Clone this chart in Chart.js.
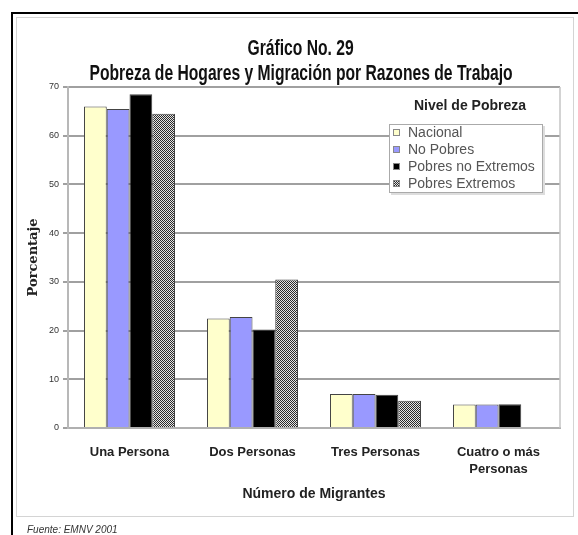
<!DOCTYPE html>
<html>
<head>
<meta charset="utf-8">
<script src="https://cdn.jsdelivr.net/npm/chart.js@4.4.0/dist/chart.umd.min.js"></script>
<style>
  body { margin: 0; width: 578px; height: 535px; overflow: hidden; background: #fff; position: relative; }
  #marcoExterno { position: absolute; left: 11px; top: 12px; width: 600px; height: 600px; border-left: 2px solid #000; border-top: 2px solid #000; }
  #marcoInterno { position: absolute; left: 16px; top: 17px; width: 556px; height: 498px; border: 1px solid #d4d4d4; }
  #grafica { position: absolute; left: 0; top: 0; }
  #titulo { position: absolute; left: 1px; width: 600px; top: 35px; text-align: center; font: bold 22px/25px 'Liberation Sans', sans-serif; color: #111; }
  #titulo span { display: inline-block; white-space: nowrap; }
  #leyendaTitulo { position: absolute; left: 414px; top: 97px; font: bold 14px 'Liberation Sans', sans-serif; color: #222; }
  #leyenda { position: absolute; left: 389px; top: 124px; width: 152px; height: 67px; border: 1px solid #aaa; box-shadow: 2px 2px 0 #ddd; background: #fff; }
  .item { position: absolute; left: 3px; font: 14px 'Liberation Sans', sans-serif; color: #555; white-space: nowrap; line-height: 14px; }
  .muestra { display: inline-block; width: 7px; height: 7px; margin-right: 8px; vertical-align: 1px; box-sizing: border-box; border: 1px solid #888; }
  #fuente { position: absolute; left: 27px; top: 524px; font: italic 10px 'Liberation Sans', sans-serif; color: #333; }
</style>
</head>
<body>
<div id="marcoExterno"></div>
<div id="marcoInterno"></div>
<canvas id="grafica" width="578" height="535"></canvas>
<div id="titulo"><span>Gráfico No. 29</span><br><span id="tituloLargo">Pobreza de Hogares y Migración por Razones de Trabajo</span></div>
<div id="leyendaTitulo">Nivel de Pobreza</div>
<div id="leyenda"></div>
<div id="fuente">Fuente: EMNV 2001</div>
<script>
// Datos
const categorias = ['Una Persona', 'Dos Personas', 'Tres Personas', ['Cuatro o más', 'Personas']];
const nacional = [66, 22.5, 7.0, 4.8];
const noPobres = [65.5, 22.8, 7.0, 4.8];
const pobresNoExtremos = [68.5, 20.2, 6.8, 4.9];
const pobresExtremos = [64.5, 30.5, 5.6, 0];
const marcasY = [0, 10, 20, 30, 40, 50, 60, 70];

// Titulo estrecho (no hay fuente condensada instalada)
const anchoTitulo = 423;
const largo = document.getElementById('tituloLargo');
const escala = anchoTitulo / largo.offsetWidth;
document.querySelectorAll('#titulo span').forEach(s => {
    s.style.transform = 'scale(' + escala + ', 1)';
});

// Trama gris para Pobres Extremos
const lienzoTrama = document.createElement('canvas');
lienzoTrama.width = 2;
lienzoTrama.height = 2;
const ct = lienzoTrama.getContext('2d');
ct.fillStyle = '#e4e4e4';
ct.fillRect(0, 0, 2, 2);
ct.fillStyle = '#2a2a2a';
ct.fillRect(0, 0, 1, 1);
ct.fillRect(1, 1, 1, 1);
const trama = ct.createPattern(lienzoTrama, 'repeat');

const series = [
    { label: 'Nacional', data: nacional, backgroundColor: '#ffffcc', muestra: '#ffffcc' },
    { label: 'No Pobres', data: noPobres, backgroundColor: '#9999ff', muestra: '#9999ff' },
    { label: 'Pobres no Extremos', data: pobresNoExtremos, backgroundColor: '#000000', muestra: '#000000' },
    { label: 'Pobres Extremos', data: pobresExtremos, backgroundColor: trama, muestra: 'url(' + lienzoTrama.toDataURL() + ')' }
];

// Leyenda
const leyenda = document.getElementById('leyenda');
series.forEach((s, i) => {
    const fila = document.createElement('div');
    fila.className = 'item';
    fila.style.top = (i * 17) + 'px';
    const m = document.createElement('span');
    m.className = 'muestra';
    m.style.background = s.muestra;
    fila.appendChild(m);
    fila.appendChild(document.createTextNode(s.label));
    leyenda.appendChild(fila);
});

// Borde derecho del area de trazado
const marcoArea = {
    id: 'marcoArea',
    beforeDatasetsDraw(chart) {
        const a = chart.chartArea;
        const ctx = chart.ctx;
        ctx.save();
        ctx.strokeStyle = '#c4c4c4';
        ctx.lineWidth = 1.5;
        ctx.beginPath();
        ctx.moveTo(a.right, a.top);
        ctx.lineTo(a.right, a.bottom);
        ctx.stroke();
        ctx.restore();
    }
};

const grafica = document.getElementById('grafica').getContext('2d');
const chart = new Chart(grafica, {
    type: 'bar',
    data: {
        labels: categorias,
        datasets: series.map(s => ({
            label: s.label,
            data: s.data,
            backgroundColor: s.backgroundColor,
            borderColor: '#444',
            borderWidth: 1,
            categoryPercentage: 0.74,
            barPercentage: 1
        }))
    },
    plugins: [marcoArea],
    options: {
        responsive: false,
        animation: false,
        layout: { padding: { left: 0, right: 18, top: 87, bottom: 0 } },
        plugins: {
            legend: { display: false },
            title: { display: false },
            tooltip: { enabled: false }
        },
        scales: {
            x: {
                grid: { display: false },
                border: { color: '#b0b0b0', width: 2 },
                ticks: {
                    padding: 7,
                    color: '#222',
                    maxRotation: 0,
                    font: { family: "'Liberation Sans', sans-serif", size: 13, weight: 'bold', lineHeight: 1.38 }
                },
                title: {
                    display: true,
                    text: 'Número de Migrantes',
                    color: '#222',
                    padding: { top: 0, bottom: 32 },
                    font: { family: "'Liberation Sans', sans-serif", size: 14, weight: 'bold', lineHeight: 1.2 }
                },
                afterFit(scale) { scale.height = 107; }
            },
            y: {
                min: 0,
                max: 70,
                afterBuildTicks(scale) { scale.ticks = marcasY.map(v => ({ value: v })); },
                grid: { color: '#a0a0a0', lineWidth: 2, tickLength: 5, tickColor: '#a0a0a0' },
                border: { color: '#b8b8b8', width: 2 },
                ticks: {
                    padding: 4,
                    color: '#333',
                    font: { family: "'Liberation Sans', sans-serif", size: 9 }
                },
                title: {
                    display: true,
                    text: 'Porcentaje',
                    color: '#222',
                    padding: { top: 26, bottom: 0 },
                    font: { family: "'DejaVu Serif', serif", size: 13, weight: 'bold', lineHeight: 1.2 }
                },
                afterFit(scale) { scale.width = 68; }
            }
        }
    }
});
</script>
</body>
</html>
